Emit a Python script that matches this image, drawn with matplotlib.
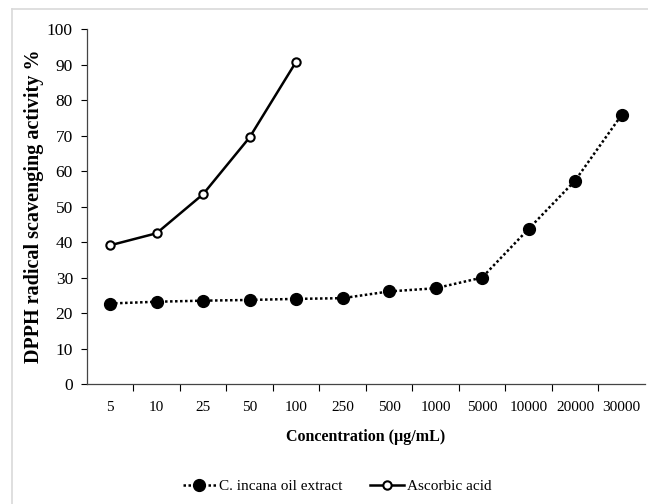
import matplotlib.pyplot as plt
from matplotlib.lines import Line2D
import numpy as np

plt.rcParams['font.family'] = ['Liberation Serif', 'DejaVu Serif']

# data
concentrations = ['5', '10', '25', '50', '100', '250', '500', '1000',
                  '5000', '10000', '20000', '30000']
incana = [22.7, 23.2, 23.5, 23.7, 24.0, 24.2, 26.1, 27.0, 30.0, 43.7, 57.3, 75.8]
ascorbic = [39.1, 42.5, 53.5, 69.5, 90.8]

fig = plt.figure(figsize=(6.48, 5.04), dpi=100)
ax = fig.add_axes([0.134, 0.238, 0.861, 0.704])

x = np.arange(len(concentrations))
ax.plot(x, incana, linestyle=(0, (1, 1)), color='black', linewidth=1.8,
        marker='o', markersize=8.5, markerfacecolor='black',
        label='C. incana oil extract')
ax.plot(x[:len(ascorbic)], ascorbic, linestyle='-', color='black', linewidth=1.8,
        marker='o', markersize=6, markerfacecolor='white', markeredgewidth=1.5,
        label='Ascorbic acid')

ax.set_xlim(-0.5, len(concentrations) - 0.5)
ax.set_ylim(0, 100)
ax.set_yticks(range(0, 101, 10))
ax.tick_params(axis='y', labelsize=12.5, direction='out', length=4, width=0.8,
               pad=6)

# ticks between categories, labels at centres
ax.set_xticks(np.arange(len(concentrations) - 1) + 0.5)
ax.set_xticklabels([])
ax.set_xticks(x, minor=True)
ax.set_xticklabels(concentrations, minor=True)
ax.tick_params(axis='x', which='major', direction='out', length=5, width=0.8)
ax.tick_params(axis='x', which='minor', length=0, labelsize=11, pad=12)

for side in ['top', 'right']:
    ax.spines[side].set_visible(False)
for side in ['left', 'bottom']:
    ax.spines[side].set_linewidth(0.9)
    ax.spines[side].set_color('#444444')

ax.set_ylabel('DPPH radical scavenging activity %', fontsize=14.5,
              fontweight='bold', labelpad=2)
ax.set_xlabel('Concentration (\u00b5g/mL)', fontsize=11.5, fontweight='bold',
              labelpad=11)

fig.legend(loc='center', bbox_to_anchor=(0.52, 0.035), ncol=2, frameon=False,
           fontsize=11, handlelength=2.2, handletextpad=0.2, columnspacing=1.8)

# light frame at top and left of the picture
fig.add_artist(Line2D([12 / 648, 1], [1 - 9 / 504, 1 - 9 / 504],
                      transform=fig.transFigure, color='#d9d9d9', linewidth=1.2))
fig.add_artist(Line2D([12 / 648, 12 / 648], [0, 1 - 9 / 504],
                      transform=fig.transFigure, color='#d9d9d9', linewidth=1.2))

fig.savefig('out.png', dpi=100)
